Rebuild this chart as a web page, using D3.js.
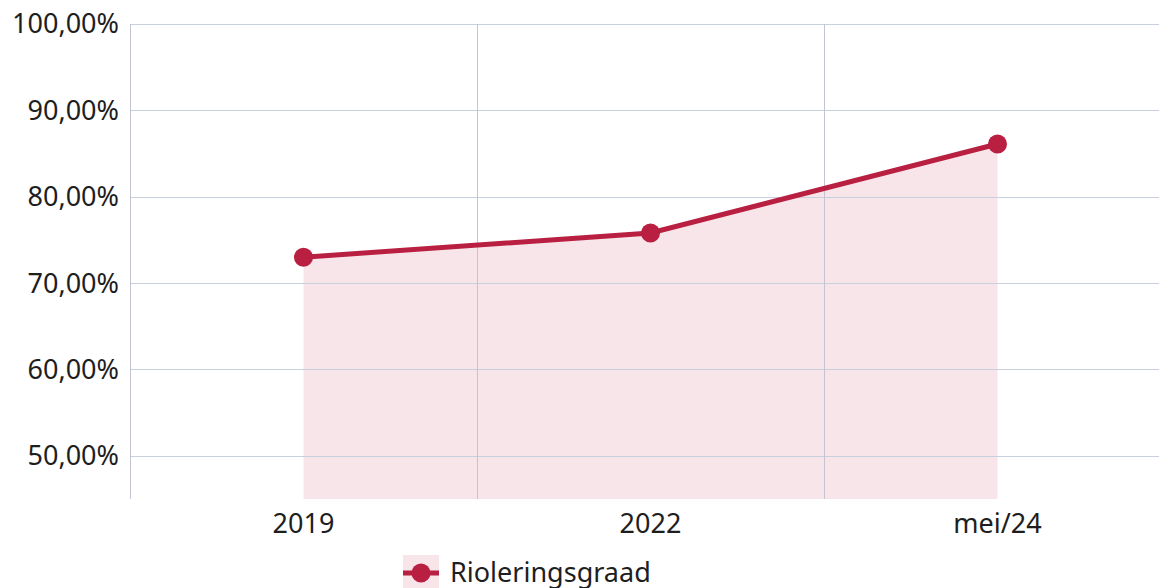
<!DOCTYPE html>
<html>
<head>
<meta charset="utf-8">
<script src="https://cdn.jsdelivr.net/npm/d3@7"></script>
<style>
  body { margin: 0; background: #fff; }
  svg { display: block; font-family: 'Noto Sans', sans-serif; }
</style>
</head>
<body>
<svg id="chart" width="1159" height="588"></svg>
<script>
const categories = ['2019', '2022', 'mei/24'];
const values = [73.0, 75.8, 86.1];
const yTicks = [50, 60, 70, 80, 90, 100];
const seriesName = 'Rioleringsgraad';

const w = 1159, h = 588;
const margin = { top: 24, left: 130, bottom: 89 };
const lineColor = '#b91f41';
const fillColor = '#f7e5ea';
const fontSize = '27px';

const svg = d3.select('#chart');

const x = d3.scaleBand()
  .domain(categories)
  .range([margin.left, margin.left + 347 * categories.length]);

const y = d3.scaleLinear()
  .domain([45, 100])
  .range([h - margin.bottom, margin.top]);

const fmt = v => d3.format('.2f')(v).replace('.', ',') + '%';
const cx = d => x(d) + x.bandwidth() / 2;

// area under line
const area = d3.area()
  .x((d, i) => cx(categories[i]))
  .y0(y(45))
  .y1(d => y(d));

svg.append('path')
  .datum(values)
  .attr('d', area)
  .style('fill', fillColor);

// horizontal grid
svg.append('g')
  .selectAll('line')
  .data(yTicks)
  .join('line')
  .attr('x1', margin.left)
  .attr('x2', w)
  .attr('y1', d => Math.round(y(d)) + 0.5)
  .attr('y2', d => Math.round(y(d)) + 0.5)
  .style('stroke', '#c9d0dd')
  .style('stroke-width', 1);

// vertical grid (band boundaries)
svg.append('g')
  .selectAll('line')
  .data(categories)
  .join('line')
  .attr('x1', d => Math.round(x(d)) + 0.5)
  .attr('x2', d => Math.round(x(d)) + 0.5)
  .attr('y1', margin.top)
  .attr('y2', y(45))
  .style('stroke', '#c4c4d4')
  .style('stroke-width', 1);

// y labels
svg.append('g')
  .selectAll('text')
  .data(yTicks)
  .join('text')
  .attr('x', 119)
  .attr('y', d => y(d))
  .attr('dy', '0.35em')
  .attr('text-anchor', 'end')
  .style('font-size', fontSize)
  .style('fill', '#1e1e1e')
  .text(fmt);

// x labels
svg.append('g')
  .selectAll('text')
  .data(categories)
  .join('text')
  .attr('x', cx)
  .attr('y', 533)
  .attr('text-anchor', 'middle')
  .style('font-size', fontSize)
  .style('fill', '#1e1e1e')
  .text(d => d);

// line
const line = d3.line()
  .x((d, i) => cx(categories[i]))
  .y(d => y(d));

svg.append('path')
  .datum(values)
  .attr('d', line)
  .style('fill', 'none')
  .style('stroke', lineColor)
  .style('stroke-width', 5);

svg.append('g')
  .selectAll('circle')
  .data(values)
  .join('circle')
  .attr('cx', (d, i) => cx(categories[i]))
  .attr('cy', d => y(d))
  .attr('r', 9.5)
  .style('fill', lineColor);

// legend
const lg = svg.append('g').attr('transform', 'translate(403,555)');
lg.append('rect')
  .attr('width', 36).attr('height', 36)
  .style('fill', fillColor);
lg.append('line')
  .attr('x1', 0).attr('x2', 36).attr('y1', 18).attr('y2', 18)
  .style('stroke', lineColor).style('stroke-width', 5);
lg.append('circle')
  .attr('cx', 18).attr('cy', 18).attr('r', 9.5)
  .style('fill', lineColor);
lg.append('text')
  .attr('x', 47).attr('y', 27)
  .style('font-size', fontSize)
  .style('fill', '#1e1e1e')
  .text(seriesName);
</script>
</body>
</html>
